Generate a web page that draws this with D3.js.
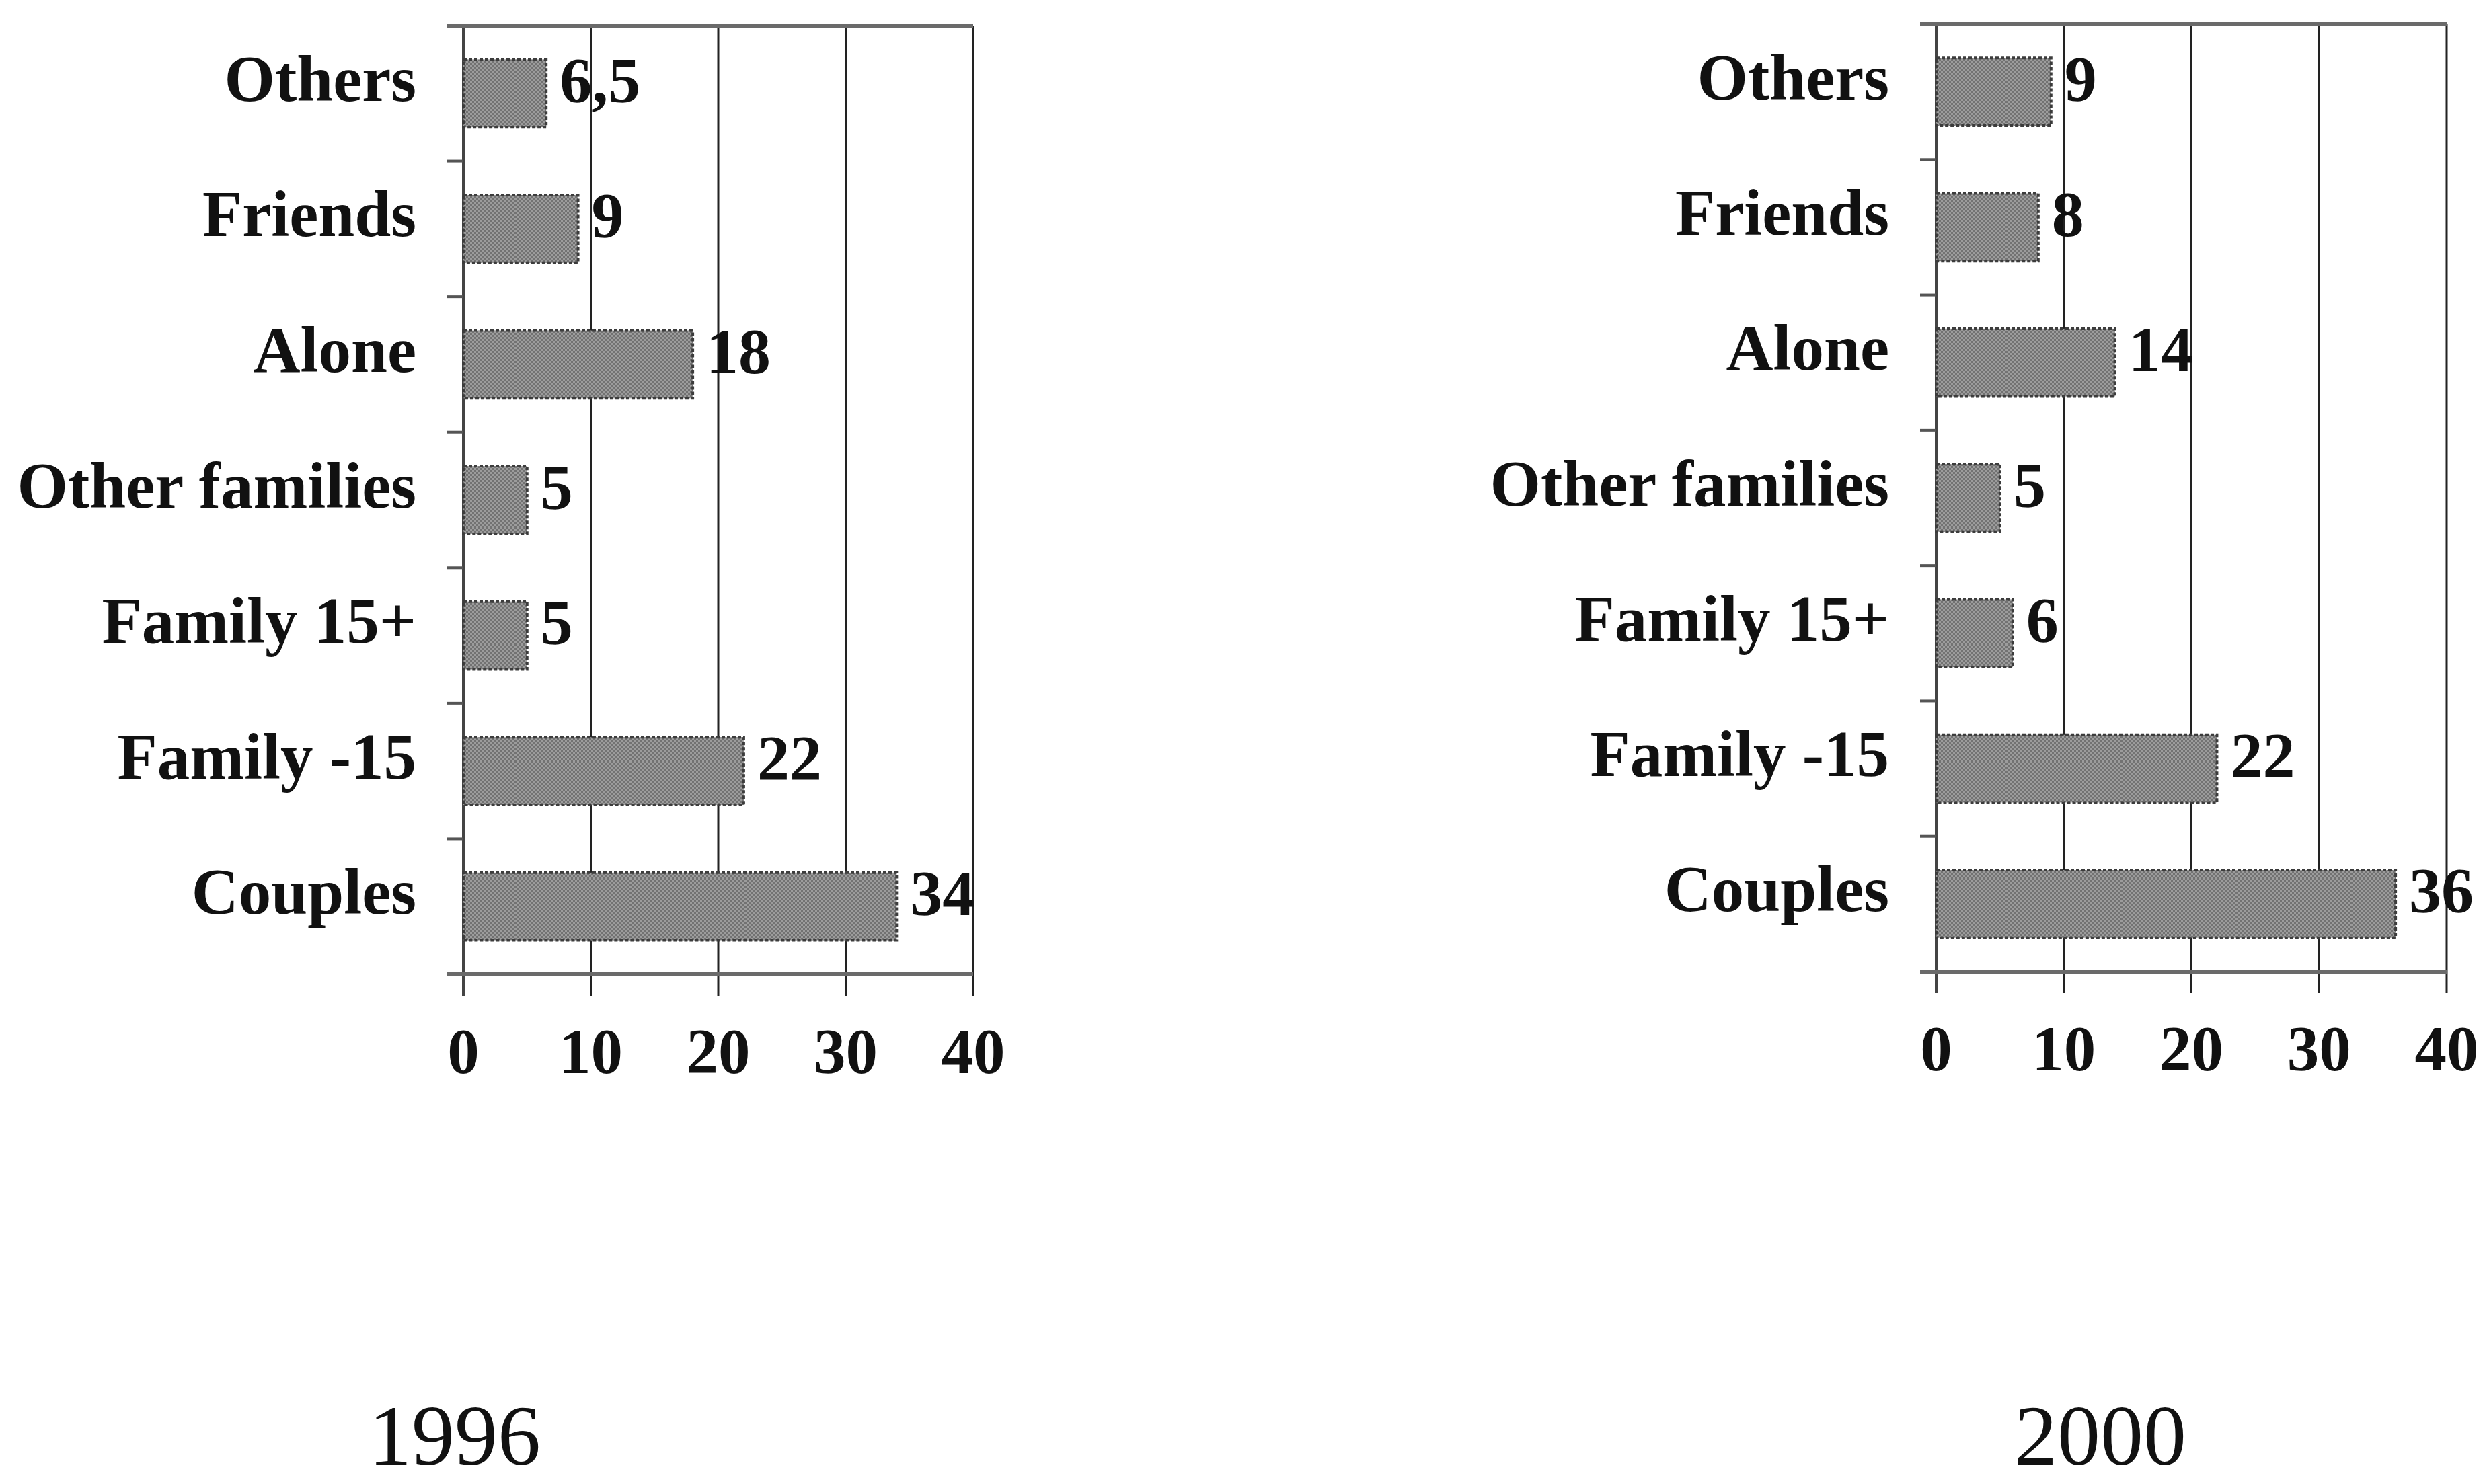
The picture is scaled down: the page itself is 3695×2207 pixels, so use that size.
<!DOCTYPE html>
<html>
<head>
<meta charset="utf-8">
<script src="https://cdn.jsdelivr.net/npm/d3@7"></script>
<style>
  html, body { margin: 0; padding: 0; background: #fff; }
  svg { display: block; }
  text { font-family: "Liberation Serif", "Times New Roman", serif; fill: #111; }
</style>
</head>
<body>
<svg id="chart" width="3695" height="2207"></svg>
<script>
// Household composition shares (%), 1996 and 2000
const categories = ["Others", "Friends", "Alone", "Other families", "Family 15+", "Family -15", "Couples"];
const values1996 = [6.5, 9, 18, 5, 5, 22, 34];
const values2000 = [9, 8, 14, 5, 6, 22, 36];
const xTicks = [0, 10, 20, 30, 40];
const years = ["1996", "2000"];

const W = 3695, H = 2207;
const svg = d3.select("#chart").attr("viewBox", `0 0 ${W} ${H}`);

// dithered grey fill for the bars
const defs = svg.append("defs");
const pat = defs.append("pattern")
  .attr("id", "dither").attr("patternUnits", "userSpaceOnUse")
  .attr("width", 6).attr("height", 6);
pat.append("rect").attr("width", 6).attr("height", 6).attr("fill", "#9c9c9c");
pat.append("rect").attr("width", 3).attr("height", 3).attr("fill", "#727272");
pat.append("rect").attr("x", 3).attr("y", 3).attr("width", 3).attr("height", 3).attr("fill", "#727272");

// comma as decimal separator
const fmt = d3.formatLocale({ decimal: ",", thousands: ".", grouping: [3], currency: ["", ""] }).format("~g");

const panels = [
  { values: values1996, year: years[0], x0: 689, x1: 1447, top: 38, bottom: 1449, yearX: 676 },
  { values: values2000, year: years[1], x0: 2879, x1: 3638, top: 36, bottom: 1445, yearX: 3123 }
];

panels.forEach(p => {
  const g = svg.append("g");
  const x = d3.scaleLinear().domain([0, 40]).range([p.x0, p.x1]);
  const y = d3.scaleBand().domain(categories).range([p.top, p.bottom])
    .paddingInner(0.5).paddingOuter(0.25);
  const step = y.step();

  // vertical gridlines, extended below the frame as x ticks
  g.selectAll("line.grid").data(xTicks).join("line")
    .attr("class", "grid")
    .attr("x1", d => x(d)).attr("x2", d => x(d))
    .attr("y1", p.top).attr("y2", p.bottom + 32)
    .attr("stroke", d => d === 0 ? "#444" : "#222")
    .attr("stroke-width", d => d === 0 ? 4 : 3);

  // category separators on the value axis
  const seps = d3.range(1, categories.length).map(i => p.top + i * step);
  g.selectAll("line.sep").data(seps).join("line")
    .attr("class", "sep")
    .attr("x1", p.x0 - 24).attr("x2", p.x0)
    .attr("y1", d => d).attr("y2", d => d)
    .attr("stroke", "#555").attr("stroke-width", 4);

  // top and bottom frame lines
  g.selectAll("line.frame").data([p.top, p.bottom]).join("line")
    .attr("class", "frame")
    .attr("x1", p.x0 - 24).attr("x2", p.x1)
    .attr("y1", d => d).attr("y2", d => d)
    .attr("stroke", "#6a6a6a").attr("stroke-width", 6);

  // bars
  g.selectAll("rect.bar").data(p.values).join("rect")
    .attr("class", "bar")
    .attr("x", x(0))
    .attr("y", (d, i) => y(categories[i]))
    .attr("width", d => x(d) - x(0))
    .attr("height", y.bandwidth())
    .attr("fill", "url(#dither)")
    .attr("stroke", "#3c3c3c").attr("stroke-width", 4)
    .attr("stroke-dasharray", "5 3");

  // value labels
  g.selectAll("text.val").data(p.values).join("text")
    .attr("class", "val")
    .attr("x", d => x(d) + 20)
    .attr("y", (d, i) => y(categories[i]) + y.bandwidth() / 2 + 13)
    .attr("font-size", 96).attr("font-weight", "bold")
    .text(d => fmt(d));

  // category labels
  g.selectAll("text.cat").data(categories).join("text")
    .attr("class", "cat")
    .attr("x", p.x0 - 70)
    .attr("y", d => y(d) + y.bandwidth() / 2 + 11)
    .attr("text-anchor", "end")
    .attr("font-size", 97).attr("font-weight", "bold")
    .text(d => d);

  // x tick labels
  g.selectAll("text.tick").data(xTicks).join("text")
    .attr("class", "tick")
    .attr("x", d => x(d))
    .attr("y", p.bottom + 147)
    .attr("text-anchor", "middle")
    .attr("font-size", 95).attr("font-weight", "bold")
    .text(d => d);

  // year caption
  g.append("text")
    .attr("x", p.yearX).attr("y", 2178)
    .attr("text-anchor", "middle")
    .attr("font-size", 128)
    .text(p.year);
});
</script>
</body>
</html>
